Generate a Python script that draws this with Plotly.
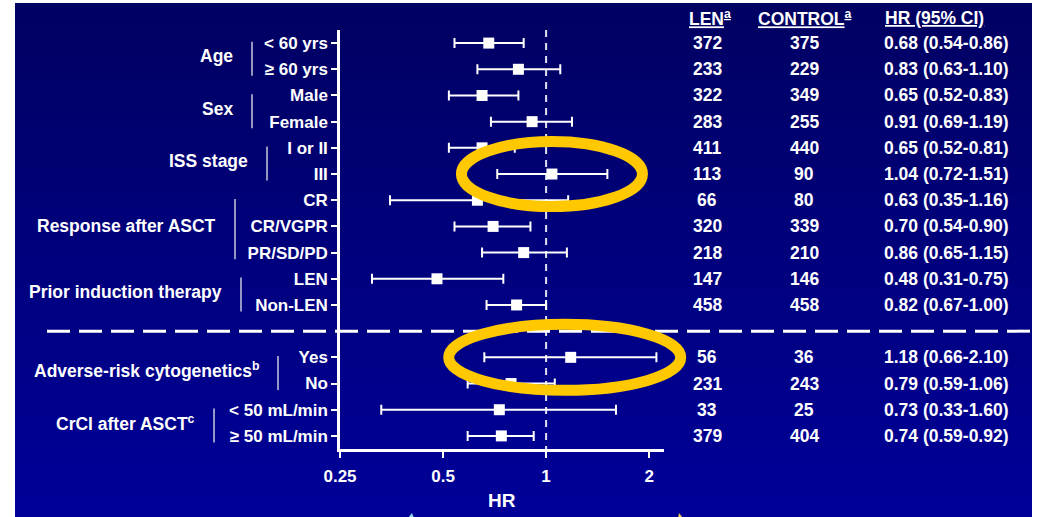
import math
import plotly.graph_objects as go

# ---------------- data ----------------
subgroups = ["< 60 yrs", "≥ 60 yrs", "Male", "Female", "I or II", "III", "CR", "CR/VGPR",
             "PR/SD/PD", "LEN", "Non-LEN", "Yes", "No", "< 50 mL/min", "≥ 50 mL/min"]
hr = [0.68, 0.83, 0.65, 0.91, 0.65, 1.04, 0.63, 0.70, 0.86, 0.48, 0.82, 1.18, 0.79, 0.73, 0.74]
ci_low = [0.54, 0.63, 0.52, 0.69, 0.52, 0.72, 0.35, 0.54, 0.65, 0.31, 0.67, 0.66, 0.59, 0.33, 0.59]
ci_high = [0.86, 1.10, 0.83, 1.19, 0.81, 1.51, 1.16, 0.90, 1.15, 0.75, 1.00, 2.10, 1.06, 1.60, 0.92]
len_n = [372, 233, 322, 283, 411, 113, 66, 320, 218, 147, 458, 56, 231, 33, 379]
control_n = [375, 229, 349, 255, 440, 90, 80, 339, 210, 146, 458, 36, 243, 25, 404]
group_names = ["Age", "Sex", "ISS stage", "Response after ASCT", "Prior induction therapy",
               "Adverse-risk cytogenetics<sup>b</sup>", "CrCl after ASCT<sup>c</sup>"]
group_members = [[0, 1], [2, 3], [4, 5], [6, 7, 8], [9, 10], [11, 12], [13, 14]]
x_ticks = [0.25, 0.5, 1, 2]
x_tick_labels = ["0.25", "0.5", "1", "2"]
x_title = "HR"
highlighted = [5, 11]
separator_after = 10  # dashed line placed after this subgroup

# ---------------- layout constants ----------------
W, H = 1040, 517
PL, PR_, PT, PB = 340, 664, 30, 449
X_MIN, X_MAX = 0.25, 2.21
FONT = "Liberation Sans, Arial, sans-serif"
WHITE = "white"

# row positions (separator occupies its own row)
rows = [i if i <= separator_after else i + 1 for i in range(len(subgroups))]
sep_row = separator_after + 1
n_rows = len(subgroups) + 1


def xpaper(px):
    return (px - PL) / (PR_ - PL)


def ypaper(py):
    return (PB - py) / (PB - PT)


def data_to_px(v):
    return PL + (math.log(v) - math.log(X_MIN)) / (math.log(X_MAX) - math.log(X_MIN)) * (PR_ - PL)


def row_to_py(r):
    return PT + (r + 0.5) / n_rows * (PB - PT)


fig = go.Figure()

# vertical reference line at HR = 1
fig.add_trace(go.Scatter(
    x=[1, 1], y=[-0.5, n_rows - 0.5], mode="lines",
    line=dict(color="#e0e0f0", width=2, dash="7px,6px"),
    hoverinfo="skip", showlegend=False))

# HR points with CI
fig.add_trace(go.Scatter(
    x=hr, y=rows, mode="markers",
    marker=dict(symbol="square", size=11, color=WHITE, line=dict(width=0)),
    error_x=dict(type="data", symmetric=False,
                 array=[h - m for h, m in zip(ci_high, hr)],
                 arrayminus=[m - l for m, l in zip(hr, ci_low)],
                 color=WHITE, thickness=2, width=5),
    cliponaxis=False, showlegend=False))

shapes = []
# gradient background
y0b, y1b = 0, 517
nb = 40
for k in range(nb):
    t = k / (nb - 1)
    b = int(round(98 + (152 - 98) * t))
    ya = y0b + (y1b - y0b) * k / nb
    yb = y0b + (y1b - y0b) * (k + 1) / nb + 1
    shapes.append(dict(type="rect", xref="paper", yref="paper",
                       x0=xpaper(0), x1=xpaper(W), y0=ypaper(yb), y1=ypaper(ya),
                       fillcolor=f"rgb(0,0,{b})", line=dict(width=0), layer="below"))
# white slide borders (top, left, right)
for bx0, bx1, by0, by1 in [(0, W, 0, 3), (0, 15, 0, H + 2), (1032, W, 0, H + 2)]:
    shapes.append(dict(type="rect", xref="paper", yref="paper",
                       x0=xpaper(bx0), x1=xpaper(bx1), y0=ypaper(by1), y1=ypaper(by0),
                       fillcolor="white", line=dict(width=0), layer="below"))
# tiny arrow tips at the bottom edge (cut off in the slide)
for pts, col in [([(408, 518), (412, 513), (414, 518)], "#8fd8e8"),
                 ([(679, 513), (683, 518), (678, 518)], "#e8c850")]:
    path = "M " + " L ".join(f"{xpaper(px)},{ypaper(py)}" for px, py in pts) + " Z"
    shapes.append(dict(type="path", xref="paper", yref="paper", path=path,
                       fillcolor=col, line=dict(width=0), layer="below"))

# horizontal dashed separator
shapes.append(dict(type="line", xref="paper", yref="y",
                   x0=xpaper(47), x1=xpaper(1030), y0=sep_row, y1=sep_row,
                   line=dict(color=WHITE, width=3, dash="23px,9px")))

# group labels and their thin vertical bars
group_bar_x = [252, 252, 267, 235, 241, 278, 214]
annotations = []
for name, members, bx in zip(group_names, group_members, group_bar_x):
    r0 = rows[members[0]]
    r1 = rows[members[-1]]
    shapes.append(dict(type="line", xref="paper", yref="y",
                       x0=xpaper(bx), x1=xpaper(bx), y0=r0 - 0.05, y1=r1 + 0.25,
                       line=dict(color="#c8c8dc", width=1.5)))
    annotations.append(dict(xref="paper", yref="y", x=xpaper(bx - 17), y=(r0 + r1) / 2,
                            text=name, showarrow=False, xanchor="right", yanchor="middle",
                            font=dict(family=FONT, size=17.5, color=WHITE, weight="bold")))

# highlight ellipses
ell_size = {5: (90.5, 32.5, 0), 11: (116, 33, -6)}
for idx in highlighted:
    rx, ry, dx = ell_size[idx]
    cx = data_to_px(hr[idx]) + dx
    cy = row_to_py(rows[idx])
    shapes.append(dict(type="circle", xref="paper", yref="paper",
                       x0=xpaper(cx - rx), x1=xpaper(cx + rx),
                       y0=ypaper(cy + ry), y1=ypaper(cy - ry),
                       line=dict(color="#FFC800", width=11)))

# table
col_len, col_ctrl, col_hr = 707, 804, 882
tfont = dict(family=FONT, size=17.5, color=WHITE, weight="bold")
for i, r in enumerate(rows):
    annotations.append(dict(xref="paper", yref="y", x=xpaper(col_len), y=r, text=str(len_n[i]),
                            showarrow=False, xanchor="center", yanchor="middle", font=tfont))
    annotations.append(dict(xref="paper", yref="y", x=xpaper(col_ctrl), y=r, text=str(control_n[i]),
                            showarrow=False, xanchor="center", yanchor="middle", font=tfont))
    annotations.append(dict(xref="paper", yref="y", x=xpaper(col_hr), y=r,
                            text=f"{hr[i]:.2f} ({ci_low[i]:.2f}-{ci_high[i]:.2f})",
                            showarrow=False, xanchor="left", yanchor="middle", font=tfont))

header_y = ypaper(18)
annotations.append(dict(xref="paper", yref="paper", x=xpaper(710), y=header_y,
                        text="<u>LEN<sup>a</sup></u>", showarrow=False, xanchor="center",
                        yanchor="middle", font=tfont))
annotations.append(dict(xref="paper", yref="paper", x=xpaper(805), y=header_y,
                        text="<u>CONTROL<sup>a</sup></u>", showarrow=False, xanchor="center",
                        yanchor="middle", font=tfont))
annotations.append(dict(xref="paper", yref="paper", x=xpaper(883), y=header_y,
                        text="<u>HR (95% CI)</u>", showarrow=False, xanchor="left",
                        yanchor="middle", font=tfont))
# x-axis title
annotations.append(dict(xref="paper", yref="paper", x=0.5, y=ypaper(500), text=x_title,
                        showarrow=False, xanchor="center", yanchor="middle",
                        font=dict(family=FONT, size=19, color=WHITE, weight="bold")))

fig.update_layout(
    width=W, height=H,
    margin=dict(l=PL, r=W - PR_, t=PT, b=H - PB, pad=0, autoexpand=False),
    paper_bgcolor="rgb(0,0,150)",
    plot_bgcolor="rgba(0,0,0,0)",
    shapes=shapes,
    annotations=annotations,
    showlegend=False,
    xaxis=dict(type="log", range=[math.log10(X_MIN), math.log10(X_MAX)],
               tickvals=x_ticks, ticktext=x_tick_labels, automargin=False,
               showgrid=False, zeroline=False,
               showline=True, linecolor=WHITE, linewidth=2.5,
               ticks="outside", ticklen=6, tickwidth=2, tickcolor=WHITE,
               ticklabelstandoff=4,
               tickfont=dict(family=FONT, size=17, color=WHITE, weight="bold")),
    yaxis=dict(range=[n_rows - 0.5, -0.5], automargin=False,
               tickvals=rows, ticktext=subgroups,
               showgrid=False, zeroline=False,
               showline=True, linecolor=WHITE, linewidth=2.5,
               ticks="outside", ticklen=6, tickwidth=2, tickcolor=WHITE,
               tickfont=dict(family=FONT, size=17, color=WHITE, weight="bold")),
)

fig.write_html("out.html")
